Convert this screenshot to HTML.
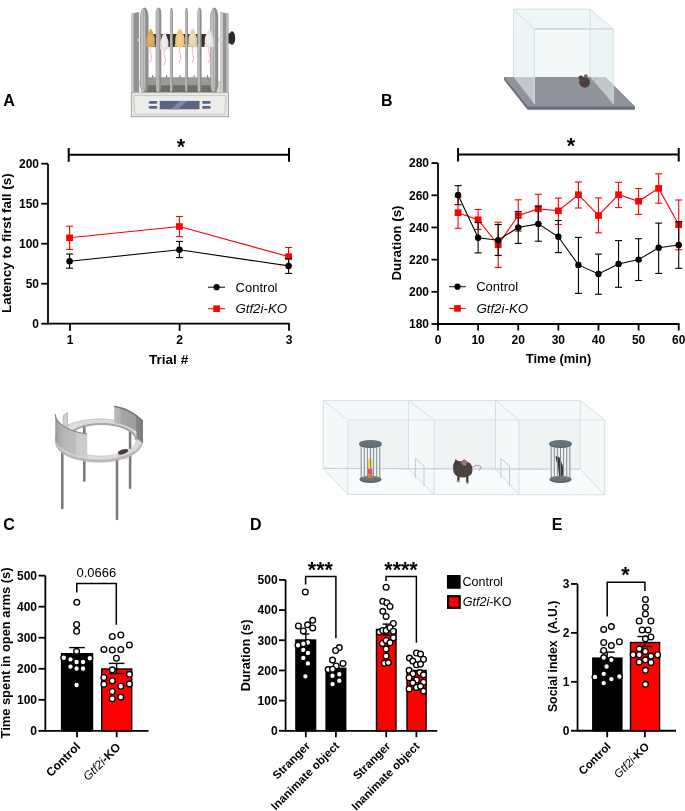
<!DOCTYPE html>
<html><head><meta charset="utf-8"><title>Figure</title>
<style>
html,body{margin:0;padding:0;background:#fff;}
svg{display:block;will-change:transform;}
text{font-family:"Liberation Sans", sans-serif;}
</style></head>
<body>
<svg width="685" height="811" viewBox="0 0 685 811">
<rect width="685" height="811" fill="#fff"/>
<g>
<rect x="131.3" y="92.5" width="97.2" height="24.2" fill="#e6e6e2" stroke="#9c9c9a" stroke-width="0.9"/>
<path d="M134.5,95.6 L225.2,95.6 Q226.2,95.6 226,97 L224.6,113.3 Q224.5,114.4 223.4,114.4 L136.3,114.4 Q135.2,114.4 135.1,113.3 L133.6,97 Q133.5,95.6 134.5,95.6 Z" fill="#ecece8" stroke="#bdbdb9" stroke-width="0.7"/>
<rect x="159.7" y="100.9" width="39.8" height="8.4" fill="#5a6484"/>
<path d="M171,109.3 L180,100.9 L187,100.9 L178,109.3 Z" fill="#8089a4"/>
<rect x="148.7" y="101.0" width="8.7" height="2.8" rx="1.4" fill="#5a6484"/>
<rect x="202.0" y="101.0" width="8.7" height="2.8" rx="1.4" fill="#5a6484"/>
<rect x="148.7" y="106.0" width="8.7" height="2.8" rx="1.4" fill="#5a6484"/>
<rect x="202.0" y="106.0" width="8.7" height="2.8" rx="1.4" fill="#5a6484"/>
<path d="M133.5,92.5 L138.5,81 L221,81 L226,92.5 Z" fill="#d6d6d2"/>
<path d="M133.5,92.5 L139,82 L141,92.5 Z" fill="#f0f0ec"/>
<rect x="142.5" y="77.6" width="74" height="14.6" fill="#6c6e68"/>
<rect x="142.5" y="77.6" width="74" height="7.6" fill="#9a9c93"/>
<rect x="152.1" y="75.2" width="1.1" height="2.6" fill="#7a7c76"/>
<rect x="166.0" y="75.2" width="1.1" height="2.6" fill="#7a7c76"/>
<rect x="179.5" y="75.2" width="1.1" height="2.6" fill="#7a7c76"/>
<rect x="193.5" y="75.2" width="1.1" height="2.6" fill="#7a7c76"/>
<rect x="207.0" y="75.2" width="1.1" height="2.6" fill="#7a7c76"/>
<path d="M131.5,13.6 L139.1,11.9 L139.1,92.5 L131.5,92.5 Z" fill="#939393"/>
<path d="M131.5,13.6 L133.6,13.1 L133.6,92.5 L131.5,92.5 Z" fill="#c9c9c9"/>
<path d="M220.5,11.9 L228.4,13.6 L228.4,92.5 L220.5,92.5 Z" fill="#939393"/>
<path d="M220.5,11.9 L223,12.4 L223,92.5 L220.5,92.5 Z" fill="#cacaca"/>
<path d="M226.3,13.2 L228.4,13.6 L228.4,92.5 L226.3,92.5 Z" fill="#bdbdbd"/>
<rect x="228.4" y="33.5" width="3.5" height="10" fill="#3a3a3a"/>
<ellipse cx="232" cy="38" rx="3.2" ry="6.8" fill="#2b2b2b"/>
<rect x="144.7" y="34" width="69.5" height="12.9" fill="#2f2f2f"/>
<rect x="137.5" y="38.6" width="4.5" height="2.6" fill="#dadad6"/>
<rect x="217.5" y="38.6" width="4.5" height="2.6" fill="#dadad6"/>
<rect x="140.20" y="7.6" width="8.30" height="85" rx="4.15" ry="9" fill="#8d8d8d"/>
<rect x="141.03" y="8.4" width="4.32" height="83.5" rx="2.16" ry="8" fill="#c6c6c6"/>
<rect x="142.69" y="10" width="1.66" height="80" rx="0.83" fill="#acacac"/>
<rect x="155.70" y="7.6" width="5.60" height="85" rx="2.80" ry="6" fill="#8d8d8d"/>
<rect x="156.26" y="8.4" width="2.91" height="83.5" rx="1.46" ry="5" fill="#c6c6c6"/>
<rect x="157.38" y="10" width="1.12" height="80" rx="0.56" fill="#acacac"/>
<rect x="169.90" y="7.6" width="3.00" height="85" rx="1.50" ry="6" fill="#8d8d8d"/>
<rect x="170.20" y="8.4" width="1.56" height="83.5" rx="0.78" ry="5" fill="#c6c6c6"/>
<rect x="170.80" y="10" width="0.60" height="80" rx="0.30" fill="#acacac"/>
<rect x="185.10" y="7.6" width="2.80" height="85" rx="1.40" ry="6" fill="#8d8d8d"/>
<rect x="185.38" y="8.4" width="1.46" height="83.5" rx="0.73" ry="5" fill="#c6c6c6"/>
<rect x="185.94" y="10" width="0.56" height="80" rx="0.28" fill="#acacac"/>
<rect x="197.40" y="7.6" width="4.20" height="85" rx="2.10" ry="6" fill="#8d8d8d"/>
<rect x="197.82" y="8.4" width="2.18" height="83.5" rx="1.09" ry="5" fill="#c6c6c6"/>
<rect x="198.66" y="10" width="0.84" height="80" rx="0.42" fill="#acacac"/>
<rect x="210.30" y="7.6" width="7.90" height="85" rx="3.95" ry="9" fill="#8d8d8d"/>
<rect x="211.09" y="8.4" width="4.11" height="83.5" rx="2.05" ry="8" fill="#c6c6c6"/>
<rect x="212.67" y="10" width="1.58" height="80" rx="0.79" fill="#acacac"/>
<path d="M150.70,28.80 C151.99,29.80 153.11,31.80 153.28,33.80 L154.31,36.30 C155.17,38.70 155.17,44.80 153.54,46.80 C151.56,47.40 149.84,47.40 147.86,46.80 C146.23,44.80 146.23,38.70 147.09,36.30 L148.12,33.80 C148.29,31.80 149.41,29.80 150.70,28.80 Z" fill="#d6a45a"/>
<ellipse cx="147.0" cy="45.3" rx="1.0" ry="1.5" fill="#d6a45a"/>
<ellipse cx="154.4" cy="45.3" rx="1.0" ry="1.5" fill="#d6a45a"/>
<ellipse cx="150.4" cy="39.2" rx="2.2" ry="5.4" fill="#e2b874" opacity="0.7"/>
<path d="M150.7,46.8 q-1.5,4 0.5,8 q1.8,4 -1.5,8" fill="none" stroke="#e6a79c" stroke-width="0.8"/>
<path d="M164.40,32.30 C165.68,33.30 166.78,35.30 166.95,37.30 L167.97,39.80 C168.82,41.70 168.82,47.40 167.21,49.40 C165.25,50.00 163.55,50.00 161.59,49.40 C159.98,47.40 159.98,41.70 160.83,39.80 L161.85,37.30 C162.02,35.30 163.12,33.30 164.40,32.30 Z" fill="#e4e1dd"/>
<ellipse cx="160.8" cy="47.9" rx="1.0" ry="1.5" fill="#e4e1dd"/>
<ellipse cx="168.1" cy="47.9" rx="1.0" ry="1.5" fill="#e4e1dd"/>
<ellipse cx="164.1" cy="42.2" rx="2.2" ry="5.1" fill="#f3f1ee" opacity="0.7"/>
<path d="M164.4,49.4 q-1.5,4 0.5,8 q1.8,4 -1.5,8" fill="none" stroke="#e6a79c" stroke-width="0.8"/>
<path d="M179.90,28.40 C181.36,29.40 182.62,31.40 182.81,33.40 L183.97,35.90 C184.94,38.52 184.94,44.80 183.10,46.80 C180.87,47.40 178.93,47.40 176.70,46.80 C174.86,44.80 174.86,38.52 175.83,35.90 L176.99,33.40 C177.18,31.40 178.44,29.40 179.90,28.40 Z" fill="#eec57a"/>
<ellipse cx="175.7" cy="45.3" rx="1.0" ry="1.5" fill="#eec57a"/>
<ellipse cx="184.2" cy="45.3" rx="1.0" ry="1.5" fill="#eec57a"/>
<ellipse cx="179.6" cy="39.1" rx="2.5" ry="5.5" fill="#f5d595" opacity="0.7"/>
<path d="M179.9,46.8 q-1.5,4 0.5,8 q1.8,4 -1.5,8" fill="none" stroke="#e6a79c" stroke-width="0.8"/>
<path d="M192.70,28.40 C194.05,29.40 195.22,31.40 195.40,33.40 L196.48,35.90 C197.38,38.69 197.38,45.10 195.67,47.10 C193.60,47.70 191.80,47.70 189.73,47.10 C188.02,45.10 188.02,38.69 188.92,35.90 L190.00,33.40 C190.18,31.40 191.35,29.40 192.70,28.40 Z" fill="#e3d1ad"/>
<ellipse cx="188.8" cy="45.6" rx="1.0" ry="1.5" fill="#e3d1ad"/>
<ellipse cx="196.6" cy="45.6" rx="1.0" ry="1.5" fill="#e3d1ad"/>
<ellipse cx="192.4" cy="39.2" rx="2.3" ry="5.6" fill="#eee1c6" opacity="0.7"/>
<path d="M192.7,47.1 q-1.5,4 0.5,8 q1.8,4 -1.5,8" fill="none" stroke="#e6a79c" stroke-width="0.8"/>
<path d="M209.10,29.00 C210.45,30.00 211.62,32.00 211.80,34.00 L212.88,36.50 C213.78,38.95 213.78,45.10 212.07,47.10 C210.00,47.70 208.20,47.70 206.13,47.10 C204.42,45.10 204.42,38.95 205.32,36.50 L206.40,34.00 C206.58,32.00 207.75,30.00 209.10,29.00 Z" fill="#e6e3e0"/>
<ellipse cx="205.2" cy="45.6" rx="1.0" ry="1.5" fill="#e6e3e0"/>
<ellipse cx="213.0" cy="45.6" rx="1.0" ry="1.5" fill="#e6e3e0"/>
<ellipse cx="208.8" cy="39.5" rx="2.3" ry="5.4" fill="#f5f3f1" opacity="0.7"/>
<path d="M209.1,47.1 q-1.5,4 0.5,8 q1.8,4 -1.5,8" fill="none" stroke="#e6a79c" stroke-width="0.8"/>
</g>
<g>
<path d="M504.1,77 L605.3,77 L634.9,106.6 L634.9,109.7 L527.6,109.7 L504.1,80 Z" fill="#6a7079"/>
<path d="M504.1,77 L605.3,77 L634.9,106.6 L527.6,106.6 Z" fill="#8f949b"/>
<path d="M513.6,9.2 L590.2,9.2 L590.2,77 L513.6,77 Z" fill="#f3f8f8"/>
<path d="M513.6,9.2 L534.4,28.9 L534.4,77 L513.6,77 Z" fill="#eef5f6"/>
<path d="M590.2,9.2 L613.2,28.9 L613.2,84.9 L605.3,77 L590.2,77 Z" fill="#eef5f6"/>
<path d="M513.6,9.2 L590.2,9.2 L613.2,28.9 L534.4,28.9 Z" fill="#eef6f6"/>
<path d="M513.6,77 L534.4,77 L534.4,104 Z" fill="#c3c8cc"/>
<path d="M590.2,77 L605.3,77 L613.2,84.9 L613.2,104 Z" fill="#c3c8cc"/>
<path d="M513.6,9.2 L590.2,9.2 L613.2,28.9 L534.4,28.9 Z M534.4,28.9 V104 M613.2,28.9 V104 M513.6,9.2 V77 M590.2,9.2 V77" fill="none" stroke="#d2dfe2" stroke-width="1"/>
<path d="M534.4,28.9 H613.2" stroke="#c9d8db" stroke-width="1.2"/>
<path d="M591,81.5 q4,0.5 5.2,-2.6 q0.5,-1.4 -0.8,-1.2" fill="none" stroke="#c99a98" stroke-width="0.8"/>
<ellipse cx="584.6" cy="82.2" rx="5.4" ry="5.6" fill="#4a4242"/>
<circle cx="580.8" cy="77.8" r="2.3" fill="#4a4242"/>
<circle cx="585.8" cy="76.2" r="1.9" fill="#7b6262"/>
<rect x="581.5" y="86.8" width="1.3" height="2.6" fill="#b88"/>
<rect x="586.2" y="87.2" width="1.3" height="2.6" fill="#b88"/>
</g>
<defs><linearGradient id="lw" x1="55" x2="87.5" y1="0" y2="0" gradientUnits="userSpaceOnUse"><stop offset="0" stop-color="#8e8e8e"/><stop offset="0.1" stop-color="#a9a9a9"/><stop offset="0.3" stop-color="#b8b8b8"/><stop offset="0.64" stop-color="#bdbdbd"/><stop offset="0.66" stop-color="#cbcbcb"/><stop offset="1" stop-color="#cdcdcd"/></linearGradient><linearGradient id="rw" x1="114" x2="143" y1="0" y2="0" gradientUnits="userSpaceOnUse"><stop offset="0" stop-color="#bdbdbd"/><stop offset="0.22" stop-color="#b4b4b4"/><stop offset="0.24" stop-color="#a6a6a6"/><stop offset="0.74" stop-color="#9e9e9e"/><stop offset="0.76" stop-color="#878787"/><stop offset="1" stop-color="#7c7c7c"/></linearGradient></defs>
<g>
<rect x="83.0" y="424" width="2.6" height="57.7" rx="1.2" fill="#7b7b7b"/>
<rect x="128.8" y="429" width="2.6" height="60.0" rx="1.2" fill="#7b7b7b"/>
<rect x="61.0" y="448" width="2.6" height="61.3" rx="1.2" fill="#7b7b7b"/>
<rect x="115.7" y="456" width="2.6" height="64.3" rx="1.2" fill="#7b7b7b"/>
<ellipse cx="98.9" cy="442.3" rx="43.8" ry="20.3" fill="#b9b9b9"/>
<ellipse cx="98.9" cy="439.5" rx="43.8" ry="20.5" fill="#dcdcdc" stroke="#b4b4b4" stroke-width="0.7"/>
<ellipse cx="101.5" cy="440.1" rx="34.7" ry="16" fill="#fff"/>
<rect x="83.0" y="425" width="2.6" height="30" fill="#7b7b7b"/>
<rect x="128.8" y="430.5" width="2.6" height="18.5" fill="#7b7b7b"/>
<path d="M66.8,440.1 A34.7,16 0 1,1 136.2,440.1" fill="none" stroke="#a5a5a5" stroke-width="2"/>
<path d="M66.8,440.1 A34.7,16 0 0,0 136.2,440.1" fill="none" stroke="#c4c4c4" stroke-width="0.8"/>
<path d="M55.3,414 A43.8,20.5 0 0,0 87.2,434 L87.2,457.5 A43.8,20.5 0 0,1 55.3,440 Z" fill="url(#lw)"/>
<path d="M55.3,414 A43.8,20.5 0 0,0 87.2,434" fill="none" stroke="#8a8a8a" stroke-width="1.2"/>
<path d="M63.3,415.4 L67.5,412.6 L67.5,428.2 L63.3,424.8 Z" fill="#cfcfcf" stroke="#9a9a9a" stroke-width="0.6"/>
<path d="M114.2,406.3 Q131,409.3 143,421.3 L143,443.5 L136.5,438 L136.5,431.5 Q126,424 114.2,423.2 Z" fill="url(#rw)"/>
<path d="M114.2,406.3 Q131,409.3 143,421.3" fill="none" stroke="#767676" stroke-width="1.4"/>
<path d="M118,455 q2,3 5,2.5 q3,-0.5 5,2" fill="none" stroke="#d49a9a" stroke-width="0.6"/>
<ellipse cx="123" cy="451.8" rx="5.4" ry="2.4" fill="#4a3e3a" transform="rotate(-18 123 451.8)"/>
</g>
<g>
<path d="M323.2,400.5 L580.3,400.5 L580.3,469.2 L323.2,468.4 Z" fill="#f0f3f3"/>
<path d="M323.2,468.4 L580.3,469.2 L604.8,494.8 L347.7,494.4 Z" fill="#f8fbfb"/>
<path d="M323.2,400.5 L347.7,419.9 L347.7,494.4 L323.2,468.4 Z" fill="#f5f9f9"/>
<path d="M580.3,400.5 L604.8,419.9 L604.8,494.8 L580.3,469.2 Z" fill="#f5f9f9"/>
<path d="M323.2,400.5 L580.3,400.5 L604.8,419.9 L347.7,419.9 Z" fill="#f4f9f9"/>
<path d="M408.4,400.5 L434.1,419.9 L434.1,494.6 L408.4,468.8 Z" fill="#f4f9f9" stroke="#d3dee1" stroke-width="1"/>
<path d="M495.5,400.5 L518.9,419.9 L518.9,494.6 L495.5,468.8 Z" fill="#f4f9f9" stroke="#d3dee1" stroke-width="1"/>
<path d="M323.2,400.5 L580.3,400.5 L604.8,419.9 L347.7,419.9 Z M347.7,419.9 V494.4 L604.8,494.8 V419.9 M323.2,400.5 V468.4 L347.7,494.4 M323.2,468.4 L580.3,469.2 L604.8,494.8 M580.3,400.5 V469.2" fill="none" stroke="#d6e1e3" stroke-width="1"/>
<path d="M323.2,468.4 L580.3,469.2" fill="none" stroke="#c8d3da" stroke-width="1.2"/>
<path d="M415.4,478 L415.4,458.4 L424.0,466 L424.0,486" fill="none" stroke="#bfcbcf" stroke-width="1"/>
<path d="M500.9,478 L500.9,458.4 L509.5,466 L509.5,486" fill="none" stroke="#bfcbcf" stroke-width="1"/>
<rect x="360.0" y="444" width="21" height="35" fill="#e9eeef" opacity="0.6"/>
<ellipse cx="370.5" cy="479.6" rx="11.2" ry="3.4" fill="#5b666b"/>
<ellipse cx="370.5" cy="478.6" rx="10.6" ry="2.6" fill="#67737a"/>
<rect x="550.0" y="444" width="21" height="35" fill="#e9eeef" opacity="0.6"/>
<ellipse cx="560.5" cy="479.6" rx="11.2" ry="3.4" fill="#5b666b"/>
<ellipse cx="560.5" cy="478.6" rx="10.6" ry="2.6" fill="#67737a"/>
<path d="M368,461 L370.2,456.5 L372.4,461 L372.4,468.7 L368,468.7 Z" fill="#f2d54e"/>
<rect x="368" y="468.7" width="4.4" height="5.8" fill="#e84a6a"/>
<rect x="367.6" y="474.5" width="5.2" height="3.5" fill="#e8782a"/>
<path d="M555.5,456.5 Q558,455.5 560,458 L563.5,468 Q564,473 562.5,476 L559,476 L558,466 Q556,461 555.5,456.5 Z" fill="#3f3939"/>
<line x1="361.2" y1="445" x2="361.2" y2="478" stroke="#7d888e" stroke-width="0.95"/>
<line x1="364.3" y1="445" x2="364.3" y2="478" stroke="#7d888e" stroke-width="0.95"/>
<line x1="367.4" y1="445" x2="367.4" y2="478" stroke="#7d888e" stroke-width="0.95"/>
<line x1="370.5" y1="445" x2="370.5" y2="478" stroke="#7d888e" stroke-width="0.95"/>
<line x1="373.6" y1="445" x2="373.6" y2="478" stroke="#7d888e" stroke-width="0.95"/>
<line x1="376.7" y1="445" x2="376.7" y2="478" stroke="#7d888e" stroke-width="0.95"/>
<line x1="379.8" y1="445" x2="379.8" y2="478" stroke="#7d888e" stroke-width="0.95"/>
<ellipse cx="370.5" cy="444.6" rx="11.4" ry="3.3" fill="#56626a"/>
<ellipse cx="370.5" cy="443.4" rx="11.4" ry="3.3" fill="#65727a"/>
<line x1="551.2" y1="445" x2="551.2" y2="478" stroke="#7d888e" stroke-width="0.95"/>
<line x1="554.3" y1="445" x2="554.3" y2="478" stroke="#7d888e" stroke-width="0.95"/>
<line x1="557.4" y1="445" x2="557.4" y2="478" stroke="#7d888e" stroke-width="0.95"/>
<line x1="560.5" y1="445" x2="560.5" y2="478" stroke="#7d888e" stroke-width="0.95"/>
<line x1="563.6" y1="445" x2="563.6" y2="478" stroke="#7d888e" stroke-width="0.95"/>
<line x1="566.7" y1="445" x2="566.7" y2="478" stroke="#7d888e" stroke-width="0.95"/>
<line x1="569.8" y1="445" x2="569.8" y2="478" stroke="#7d888e" stroke-width="0.95"/>
<ellipse cx="560.5" cy="444.6" rx="11.4" ry="3.3" fill="#56626a"/>
<ellipse cx="560.5" cy="443.4" rx="11.4" ry="3.3" fill="#65727a"/>
<path d="M471.5,467.5 q5,-3.5 9,-1.5 q1.5,1.5 -1.5,4.5" fill="none" stroke="#b98a8a" stroke-width="1"/>
<ellipse cx="458.3" cy="481.2" rx="1.6" ry="1.3" fill="#c09090"/>
<ellipse cx="467.3" cy="482.6" rx="1.6" ry="1.3" fill="#c09090"/>
<rect x="457.3" y="474" width="2.2" height="6.5" fill="#3f3838"/>
<rect x="466.2" y="475" width="2.2" height="7" fill="#3f3838"/>
<path d="M453,467 Q453,461 458,461 L468,462 Q472.5,464 472.5,470 Q472.5,477 464,477.5 Q455,477.5 453.5,472 Z" fill="#4a4340"/>
<path d="M453.5,466 L455.5,459 L459.5,462.5 Z" fill="#433c3a"/>
<ellipse cx="464.2" cy="462.6" rx="2.8" ry="3.1" fill="#9c7474"/>
</g>
<text x="3.30" y="105.70" font-size="16" font-weight="bold" font-style="normal" text-anchor="start" fill="#000" >A</text>
<text x="381.00" y="105.70" font-size="16" font-weight="bold" font-style="normal" text-anchor="start" fill="#000" >B</text>
<text x="3.20" y="530.20" font-size="16" font-weight="bold" font-style="normal" text-anchor="start" fill="#000" >C</text>
<text x="250.00" y="530.20" font-size="16" font-weight="bold" font-style="normal" text-anchor="start" fill="#000" >D</text>
<text x="551.80" y="530.20" font-size="16" font-weight="bold" font-style="normal" text-anchor="start" fill="#000" >E</text>
<line x1="48.00" y1="163.70" x2="48.00" y2="324.60" stroke="#000" stroke-width="1.8"/>
<line x1="41.30" y1="323.70" x2="48.00" y2="323.70" stroke="#000" stroke-width="1.8"/>
<text x="39.00" y="328.00" font-size="12" font-weight="bold" font-style="normal" text-anchor="end" fill="#000" >0</text>
<line x1="41.30" y1="283.70" x2="48.00" y2="283.70" stroke="#000" stroke-width="1.8"/>
<text x="39.00" y="288.00" font-size="12" font-weight="bold" font-style="normal" text-anchor="end" fill="#000" >50</text>
<line x1="41.30" y1="243.70" x2="48.00" y2="243.70" stroke="#000" stroke-width="1.8"/>
<text x="39.00" y="248.00" font-size="12" font-weight="bold" font-style="normal" text-anchor="end" fill="#000" >100</text>
<line x1="41.30" y1="203.70" x2="48.00" y2="203.70" stroke="#000" stroke-width="1.8"/>
<text x="39.00" y="208.00" font-size="12" font-weight="bold" font-style="normal" text-anchor="end" fill="#000" >150</text>
<line x1="41.30" y1="163.70" x2="48.00" y2="163.70" stroke="#000" stroke-width="1.8"/>
<text x="39.00" y="168.00" font-size="12" font-weight="bold" font-style="normal" text-anchor="end" fill="#000" >200</text>
<line x1="48.00" y1="323.70" x2="289.70" y2="323.70" stroke="#000" stroke-width="1.8"/>
<line x1="70.00" y1="323.70" x2="70.00" y2="330.80" stroke="#000" stroke-width="1.8"/>
<text x="70.00" y="343.70" font-size="12" font-weight="bold" font-style="normal" text-anchor="middle" fill="#000" >1</text>
<line x1="179.60" y1="323.70" x2="179.60" y2="330.80" stroke="#000" stroke-width="1.8"/>
<text x="179.60" y="343.70" font-size="12" font-weight="bold" font-style="normal" text-anchor="middle" fill="#000" >2</text>
<line x1="289.00" y1="323.70" x2="289.00" y2="330.80" stroke="#000" stroke-width="1.8"/>
<text x="289.00" y="343.70" font-size="12" font-weight="bold" font-style="normal" text-anchor="middle" fill="#000" >3</text>
<text x="168.60" y="363.80" font-size="13.6" font-weight="bold" font-style="normal" text-anchor="middle" fill="#000" >Trial #</text>
<text x="0.00" y="0.00" font-size="13.45" font-weight="bold" font-style="normal" text-anchor="middle" fill="#000" transform="translate(10.8,243.2) rotate(-90)">Latency to first fall (s)</text>
<path d="M68.7,148 V161.7 M68.7,154.8 H289 M289,148 V161.7" fill="none" stroke="#000" stroke-width="2"/>
<text x="181.00" y="153.60" font-size="21.5" font-weight="bold" font-style="normal" text-anchor="middle" fill="#000" >*</text>
<polyline points="69.60,237.80 179.40,226.50 288.60,256.60" fill="none" stroke="#f00" stroke-width="1.1"/>
<line x1="69.60" y1="226.20" x2="69.60" y2="249.40" stroke="#f00" stroke-width="1.1"/>
<line x1="66.10" y1="226.20" x2="73.10" y2="226.20" stroke="#f00" stroke-width="1.1"/>
<line x1="66.10" y1="249.40" x2="73.10" y2="249.40" stroke="#f00" stroke-width="1.1"/>
<line x1="179.40" y1="216.50" x2="179.40" y2="236.60" stroke="#f00" stroke-width="1.1"/>
<line x1="175.90" y1="216.50" x2="182.90" y2="216.50" stroke="#f00" stroke-width="1.1"/>
<line x1="175.90" y1="236.60" x2="182.90" y2="236.60" stroke="#f00" stroke-width="1.1"/>
<line x1="288.60" y1="247.50" x2="288.60" y2="265.60" stroke="#f00" stroke-width="1.1"/>
<line x1="285.10" y1="247.50" x2="292.10" y2="247.50" stroke="#f00" stroke-width="1.1"/>
<line x1="285.10" y1="265.60" x2="292.10" y2="265.60" stroke="#f00" stroke-width="1.1"/>
<rect x="66.20" y="234.50" width="6.8" height="6.6" fill="#f00"/>
<rect x="176.00" y="223.20" width="6.8" height="6.6" fill="#f00"/>
<rect x="285.20" y="253.30" width="6.8" height="6.6" fill="#f00"/>
<polyline points="69.60,261.20 179.40,249.80 288.60,265.90" fill="none" stroke="#000" stroke-width="1.1"/>
<line x1="69.60" y1="254.00" x2="69.60" y2="268.20" stroke="#000" stroke-width="1.1"/>
<line x1="66.10" y1="254.00" x2="73.10" y2="254.00" stroke="#000" stroke-width="1.1"/>
<line x1="66.10" y1="268.20" x2="73.10" y2="268.20" stroke="#000" stroke-width="1.1"/>
<line x1="179.40" y1="241.40" x2="179.40" y2="257.60" stroke="#000" stroke-width="1.1"/>
<line x1="175.90" y1="241.40" x2="182.90" y2="241.40" stroke="#000" stroke-width="1.1"/>
<line x1="175.90" y1="257.60" x2="182.90" y2="257.60" stroke="#000" stroke-width="1.1"/>
<line x1="288.60" y1="258.60" x2="288.60" y2="273.40" stroke="#000" stroke-width="1.1"/>
<line x1="285.10" y1="258.60" x2="292.10" y2="258.60" stroke="#000" stroke-width="1.1"/>
<line x1="285.10" y1="273.40" x2="292.10" y2="273.40" stroke="#000" stroke-width="1.1"/>
<circle cx="69.60" cy="261.20" r="3.25" fill="#000"/>
<circle cx="179.40" cy="249.80" r="3.25" fill="#000"/>
<circle cx="288.60" cy="265.90" r="3.25" fill="#000"/>
<line x1="208.00" y1="287.20" x2="225.00" y2="287.20" stroke="#000" stroke-width="1"/>
<circle cx="216.6" cy="287.2" r="3.1" fill="#000"/>
<text x="235.60" y="291.90" font-size="13" font-weight="normal" font-style="normal" text-anchor="start" fill="#000" >Control</text>
<line x1="208.00" y1="308.70" x2="225.00" y2="308.70" stroke="#f00" stroke-width="1"/>
<rect x="213.3" y="305.4" width="6.6" height="6.6" fill="#f00"/>
<text x="235.40" y="313.40" font-size="13.3" font-weight="normal" font-style="italic" text-anchor="start" fill="#000" >Gtf2i-KO</text>
<line x1="438.00" y1="163.10" x2="438.00" y2="324.90" stroke="#000" stroke-width="1.8"/>
<line x1="431.50" y1="324.00" x2="438.00" y2="324.00" stroke="#000" stroke-width="1.8"/>
<text x="429.00" y="328.30" font-size="12" font-weight="bold" font-style="normal" text-anchor="end" fill="#000" >180</text>
<line x1="431.50" y1="291.82" x2="438.00" y2="291.82" stroke="#000" stroke-width="1.8"/>
<text x="429.00" y="296.12" font-size="12" font-weight="bold" font-style="normal" text-anchor="end" fill="#000" >200</text>
<line x1="431.50" y1="259.64" x2="438.00" y2="259.64" stroke="#000" stroke-width="1.8"/>
<text x="429.00" y="263.94" font-size="12" font-weight="bold" font-style="normal" text-anchor="end" fill="#000" >220</text>
<line x1="431.50" y1="227.46" x2="438.00" y2="227.46" stroke="#000" stroke-width="1.8"/>
<text x="429.00" y="231.76" font-size="12" font-weight="bold" font-style="normal" text-anchor="end" fill="#000" >240</text>
<line x1="431.50" y1="195.28" x2="438.00" y2="195.28" stroke="#000" stroke-width="1.8"/>
<text x="429.00" y="199.58" font-size="12" font-weight="bold" font-style="normal" text-anchor="end" fill="#000" >260</text>
<line x1="431.50" y1="163.10" x2="438.00" y2="163.10" stroke="#000" stroke-width="1.8"/>
<text x="429.00" y="167.40" font-size="12" font-weight="bold" font-style="normal" text-anchor="end" fill="#000" >280</text>
<line x1="438.00" y1="324.00" x2="679.62" y2="324.00" stroke="#000" stroke-width="1.8"/>
<line x1="438.00" y1="324.00" x2="438.00" y2="330.50" stroke="#000" stroke-width="1.8"/>
<text x="438.00" y="343.70" font-size="12" font-weight="bold" font-style="normal" text-anchor="middle" fill="#000" >0</text>
<line x1="478.12" y1="324.00" x2="478.12" y2="330.50" stroke="#000" stroke-width="1.8"/>
<text x="478.12" y="343.70" font-size="12" font-weight="bold" font-style="normal" text-anchor="middle" fill="#000" >10</text>
<line x1="518.24" y1="324.00" x2="518.24" y2="330.50" stroke="#000" stroke-width="1.8"/>
<text x="518.24" y="343.70" font-size="12" font-weight="bold" font-style="normal" text-anchor="middle" fill="#000" >20</text>
<line x1="558.36" y1="324.00" x2="558.36" y2="330.50" stroke="#000" stroke-width="1.8"/>
<text x="558.36" y="343.70" font-size="12" font-weight="bold" font-style="normal" text-anchor="middle" fill="#000" >30</text>
<line x1="598.48" y1="324.00" x2="598.48" y2="330.50" stroke="#000" stroke-width="1.8"/>
<text x="598.48" y="343.70" font-size="12" font-weight="bold" font-style="normal" text-anchor="middle" fill="#000" >40</text>
<line x1="638.60" y1="324.00" x2="638.60" y2="330.50" stroke="#000" stroke-width="1.8"/>
<text x="638.60" y="343.70" font-size="12" font-weight="bold" font-style="normal" text-anchor="middle" fill="#000" >50</text>
<line x1="678.72" y1="324.00" x2="678.72" y2="330.50" stroke="#000" stroke-width="1.8"/>
<text x="678.72" y="343.70" font-size="12" font-weight="bold" font-style="normal" text-anchor="middle" fill="#000" >60</text>
<text x="558.50" y="363.30" font-size="13" font-weight="bold" font-style="normal" text-anchor="middle" fill="#000" >Time (min)</text>
<text x="0.00" y="0.00" font-size="13.4" font-weight="bold" font-style="normal" text-anchor="middle" fill="#000" transform="translate(400.8,243.0) rotate(-90)">Duration (s)</text>
<path d="M458.06,148 V161.6 M458.06,154.6 H678.72 M678.72,148 V161.6" fill="none" stroke="#000" stroke-width="2"/>
<text x="570.90" y="153.30" font-size="21.5" font-weight="bold" font-style="normal" text-anchor="middle" fill="#000" >*</text>
<polyline points="458.06,212.70 478.12,219.70 498.18,244.80 518.24,215.50 538.30,208.90 558.36,210.80 578.42,194.70 598.48,215.50 618.54,194.70 638.60,201.30 658.66,188.40 678.72,224.70" fill="none" stroke="#f00" stroke-width="1.1"/>
<line x1="458.06" y1="197.00" x2="458.06" y2="228.30" stroke="#f00" stroke-width="1.1"/>
<line x1="454.56" y1="197.00" x2="461.56" y2="197.00" stroke="#f00" stroke-width="1.1"/>
<line x1="454.56" y1="228.30" x2="461.56" y2="228.30" stroke="#f00" stroke-width="1.1"/>
<line x1="478.12" y1="209.50" x2="478.12" y2="229.40" stroke="#f00" stroke-width="1.1"/>
<line x1="474.62" y1="209.50" x2="481.62" y2="209.50" stroke="#f00" stroke-width="1.1"/>
<line x1="474.62" y1="229.40" x2="481.62" y2="229.40" stroke="#f00" stroke-width="1.1"/>
<line x1="498.18" y1="222.20" x2="498.18" y2="267.40" stroke="#f00" stroke-width="1.1"/>
<line x1="494.68" y1="222.20" x2="501.68" y2="222.20" stroke="#f00" stroke-width="1.1"/>
<line x1="494.68" y1="267.40" x2="501.68" y2="267.40" stroke="#f00" stroke-width="1.1"/>
<line x1="518.24" y1="199.80" x2="518.24" y2="231.10" stroke="#f00" stroke-width="1.1"/>
<line x1="514.74" y1="199.80" x2="521.74" y2="199.80" stroke="#f00" stroke-width="1.1"/>
<line x1="514.74" y1="231.10" x2="521.74" y2="231.10" stroke="#f00" stroke-width="1.1"/>
<line x1="538.30" y1="194.30" x2="538.30" y2="223.50" stroke="#f00" stroke-width="1.1"/>
<line x1="534.80" y1="194.30" x2="541.80" y2="194.30" stroke="#f00" stroke-width="1.1"/>
<line x1="534.80" y1="223.50" x2="541.80" y2="223.50" stroke="#f00" stroke-width="1.1"/>
<line x1="558.36" y1="198.10" x2="558.36" y2="224.50" stroke="#f00" stroke-width="1.1"/>
<line x1="554.86" y1="198.10" x2="561.86" y2="198.10" stroke="#f00" stroke-width="1.1"/>
<line x1="554.86" y1="224.50" x2="561.86" y2="224.50" stroke="#f00" stroke-width="1.1"/>
<line x1="578.42" y1="182.00" x2="578.42" y2="208.00" stroke="#f00" stroke-width="1.1"/>
<line x1="574.92" y1="182.00" x2="581.92" y2="182.00" stroke="#f00" stroke-width="1.1"/>
<line x1="574.92" y1="208.00" x2="581.92" y2="208.00" stroke="#f00" stroke-width="1.1"/>
<line x1="598.48" y1="197.90" x2="598.48" y2="232.80" stroke="#f00" stroke-width="1.1"/>
<line x1="594.98" y1="197.90" x2="601.98" y2="197.90" stroke="#f00" stroke-width="1.1"/>
<line x1="594.98" y1="232.80" x2="601.98" y2="232.80" stroke="#f00" stroke-width="1.1"/>
<line x1="618.54" y1="182.30" x2="618.54" y2="207.60" stroke="#f00" stroke-width="1.1"/>
<line x1="615.04" y1="182.30" x2="622.04" y2="182.30" stroke="#f00" stroke-width="1.1"/>
<line x1="615.04" y1="207.60" x2="622.04" y2="207.60" stroke="#f00" stroke-width="1.1"/>
<line x1="638.60" y1="188.60" x2="638.60" y2="214.40" stroke="#f00" stroke-width="1.1"/>
<line x1="635.10" y1="188.60" x2="642.10" y2="188.60" stroke="#f00" stroke-width="1.1"/>
<line x1="635.10" y1="214.40" x2="642.10" y2="214.40" stroke="#f00" stroke-width="1.1"/>
<line x1="658.66" y1="173.80" x2="658.66" y2="203.20" stroke="#f00" stroke-width="1.1"/>
<line x1="655.16" y1="173.80" x2="662.16" y2="173.80" stroke="#f00" stroke-width="1.1"/>
<line x1="655.16" y1="203.20" x2="662.16" y2="203.20" stroke="#f00" stroke-width="1.1"/>
<line x1="678.72" y1="200.00" x2="678.72" y2="249.70" stroke="#f00" stroke-width="1.1"/>
<line x1="675.22" y1="200.00" x2="682.22" y2="200.00" stroke="#f00" stroke-width="1.1"/>
<line x1="675.22" y1="249.70" x2="682.22" y2="249.70" stroke="#f00" stroke-width="1.1"/>
<rect x="454.66" y="209.40" width="6.8" height="6.6" fill="#f00"/>
<rect x="474.72" y="216.40" width="6.8" height="6.6" fill="#f00"/>
<rect x="494.78" y="241.50" width="6.8" height="6.6" fill="#f00"/>
<rect x="514.84" y="212.20" width="6.8" height="6.6" fill="#f00"/>
<rect x="534.90" y="205.60" width="6.8" height="6.6" fill="#f00"/>
<rect x="554.96" y="207.50" width="6.8" height="6.6" fill="#f00"/>
<rect x="575.02" y="191.40" width="6.8" height="6.6" fill="#f00"/>
<rect x="595.08" y="212.20" width="6.8" height="6.6" fill="#f00"/>
<rect x="615.14" y="191.40" width="6.8" height="6.6" fill="#f00"/>
<rect x="635.20" y="198.00" width="6.8" height="6.6" fill="#f00"/>
<rect x="655.26" y="185.10" width="6.8" height="6.6" fill="#f00"/>
<rect x="675.32" y="221.40" width="6.8" height="6.6" fill="#f00"/>
<polyline points="458.06,195.05 478.12,237.75 498.18,240.20 518.24,227.50 538.30,223.90 558.36,236.80 578.42,264.90 598.48,274.00 618.54,263.90 638.60,259.60 658.66,247.80 678.72,245.00" fill="none" stroke="#000" stroke-width="1.1"/>
<line x1="458.06" y1="185.60" x2="458.06" y2="204.70" stroke="#000" stroke-width="1.1"/>
<line x1="454.56" y1="185.60" x2="461.56" y2="185.60" stroke="#000" stroke-width="1.1"/>
<line x1="454.56" y1="204.70" x2="461.56" y2="204.70" stroke="#000" stroke-width="1.1"/>
<line x1="478.12" y1="222.60" x2="478.12" y2="252.90" stroke="#000" stroke-width="1.1"/>
<line x1="474.62" y1="222.60" x2="481.62" y2="222.60" stroke="#000" stroke-width="1.1"/>
<line x1="474.62" y1="252.90" x2="481.62" y2="252.90" stroke="#000" stroke-width="1.1"/>
<line x1="498.18" y1="224.50" x2="498.18" y2="255.40" stroke="#000" stroke-width="1.1"/>
<line x1="494.68" y1="224.50" x2="501.68" y2="224.50" stroke="#000" stroke-width="1.1"/>
<line x1="494.68" y1="255.40" x2="501.68" y2="255.40" stroke="#000" stroke-width="1.1"/>
<line x1="518.24" y1="211.40" x2="518.24" y2="243.40" stroke="#000" stroke-width="1.1"/>
<line x1="514.74" y1="211.40" x2="521.74" y2="211.40" stroke="#000" stroke-width="1.1"/>
<line x1="514.74" y1="243.40" x2="521.74" y2="243.40" stroke="#000" stroke-width="1.1"/>
<line x1="538.30" y1="206.10" x2="538.30" y2="241.20" stroke="#000" stroke-width="1.1"/>
<line x1="534.80" y1="206.10" x2="541.80" y2="206.10" stroke="#000" stroke-width="1.1"/>
<line x1="534.80" y1="241.20" x2="541.80" y2="241.20" stroke="#000" stroke-width="1.1"/>
<line x1="558.36" y1="220.50" x2="558.36" y2="252.60" stroke="#000" stroke-width="1.1"/>
<line x1="554.86" y1="220.50" x2="561.86" y2="220.50" stroke="#000" stroke-width="1.1"/>
<line x1="554.86" y1="252.60" x2="561.86" y2="252.60" stroke="#000" stroke-width="1.1"/>
<line x1="578.42" y1="237.40" x2="578.42" y2="293.40" stroke="#000" stroke-width="1.1"/>
<line x1="574.92" y1="237.40" x2="581.92" y2="237.40" stroke="#000" stroke-width="1.1"/>
<line x1="574.92" y1="293.40" x2="581.92" y2="293.40" stroke="#000" stroke-width="1.1"/>
<line x1="598.48" y1="254.10" x2="598.48" y2="294.30" stroke="#000" stroke-width="1.1"/>
<line x1="594.98" y1="254.10" x2="601.98" y2="254.10" stroke="#000" stroke-width="1.1"/>
<line x1="594.98" y1="294.30" x2="601.98" y2="294.30" stroke="#000" stroke-width="1.1"/>
<line x1="618.54" y1="240.60" x2="618.54" y2="287.30" stroke="#000" stroke-width="1.1"/>
<line x1="615.04" y1="240.60" x2="622.04" y2="240.60" stroke="#000" stroke-width="1.1"/>
<line x1="615.04" y1="287.30" x2="622.04" y2="287.30" stroke="#000" stroke-width="1.1"/>
<line x1="638.60" y1="238.70" x2="638.60" y2="280.50" stroke="#000" stroke-width="1.1"/>
<line x1="635.10" y1="238.70" x2="642.10" y2="238.70" stroke="#000" stroke-width="1.1"/>
<line x1="635.10" y1="280.50" x2="642.10" y2="280.50" stroke="#000" stroke-width="1.1"/>
<line x1="658.66" y1="223.10" x2="658.66" y2="273.40" stroke="#000" stroke-width="1.1"/>
<line x1="655.16" y1="223.10" x2="662.16" y2="223.10" stroke="#000" stroke-width="1.1"/>
<line x1="655.16" y1="273.40" x2="662.16" y2="273.40" stroke="#000" stroke-width="1.1"/>
<line x1="678.72" y1="221.70" x2="678.72" y2="268.30" stroke="#000" stroke-width="1.1"/>
<line x1="675.22" y1="221.70" x2="682.22" y2="221.70" stroke="#000" stroke-width="1.1"/>
<line x1="675.22" y1="268.30" x2="682.22" y2="268.30" stroke="#000" stroke-width="1.1"/>
<circle cx="458.06" cy="195.05" r="3.2" fill="#000"/>
<circle cx="478.12" cy="237.75" r="3.2" fill="#000"/>
<circle cx="498.18" cy="240.20" r="3.2" fill="#000"/>
<circle cx="518.24" cy="227.50" r="3.2" fill="#000"/>
<circle cx="538.30" cy="223.90" r="3.2" fill="#000"/>
<circle cx="558.36" cy="236.80" r="3.2" fill="#000"/>
<circle cx="578.42" cy="264.90" r="3.2" fill="#000"/>
<circle cx="598.48" cy="274.00" r="3.2" fill="#000"/>
<circle cx="618.54" cy="263.90" r="3.2" fill="#000"/>
<circle cx="638.60" cy="259.60" r="3.2" fill="#000"/>
<circle cx="658.66" cy="247.80" r="3.2" fill="#000"/>
<circle cx="678.72" cy="245.00" r="3.2" fill="#000"/>
<line x1="449.10" y1="286.70" x2="465.80" y2="286.70" stroke="#000" stroke-width="1"/>
<circle cx="457.5" cy="286.7" r="3.1" fill="#000"/>
<text x="476.20" y="291.40" font-size="13" font-weight="normal" font-style="normal" text-anchor="start" fill="#000" >Control</text>
<line x1="449.10" y1="308.40" x2="465.80" y2="308.40" stroke="#f00" stroke-width="1"/>
<rect x="454.2" y="305.1" width="6.6" height="6.6" fill="#f00"/>
<text x="476.40" y="313.10" font-size="13.3" font-weight="normal" font-style="italic" text-anchor="start" fill="#000" >Gtf2i-KO</text>
<line x1="45.35" y1="575.65" x2="45.35" y2="731.75" stroke="#000" stroke-width="1.8"/>
<line x1="38.50" y1="730.85" x2="45.35" y2="730.85" stroke="#000" stroke-width="1.8"/>
<text x="37.00" y="735.35" font-size="12" font-weight="bold" font-style="normal" text-anchor="end" fill="#000" >0</text>
<line x1="38.50" y1="699.81" x2="45.35" y2="699.81" stroke="#000" stroke-width="1.8"/>
<text x="37.00" y="704.31" font-size="12" font-weight="bold" font-style="normal" text-anchor="end" fill="#000" >100</text>
<line x1="38.50" y1="668.77" x2="45.35" y2="668.77" stroke="#000" stroke-width="1.8"/>
<text x="37.00" y="673.27" font-size="12" font-weight="bold" font-style="normal" text-anchor="end" fill="#000" >200</text>
<line x1="38.50" y1="637.73" x2="45.35" y2="637.73" stroke="#000" stroke-width="1.8"/>
<text x="37.00" y="642.23" font-size="12" font-weight="bold" font-style="normal" text-anchor="end" fill="#000" >300</text>
<line x1="38.50" y1="606.69" x2="45.35" y2="606.69" stroke="#000" stroke-width="1.8"/>
<text x="37.00" y="611.19" font-size="12" font-weight="bold" font-style="normal" text-anchor="end" fill="#000" >400</text>
<line x1="38.50" y1="575.65" x2="45.35" y2="575.65" stroke="#000" stroke-width="1.8"/>
<text x="37.00" y="580.15" font-size="12" font-weight="bold" font-style="normal" text-anchor="end" fill="#000" >500</text>
<line x1="45.35" y1="730.85" x2="148.50" y2="730.85" stroke="#000" stroke-width="1.8"/>
<rect x="61.60" y="653.70" width="30.90" height="77.15" fill="#000" stroke="#000" stroke-width="1.4"/>
<rect x="101.70" y="669.00" width="30.00" height="61.85" fill="#f00" stroke="#000" stroke-width="1.4"/>
<line x1="77.00" y1="730.85" x2="77.00" y2="737.20" stroke="#000" stroke-width="1.8"/>
<line x1="116.70" y1="730.85" x2="116.70" y2="737.20" stroke="#000" stroke-width="1.8"/>
<line x1="77.00" y1="647.60" x2="77.00" y2="660.00" stroke="#000" stroke-width="1.4"/>
<line x1="69.20" y1="647.60" x2="84.80" y2="647.60" stroke="#000" stroke-width="1.4"/>
<line x1="69.20" y1="660.00" x2="84.80" y2="660.00" stroke="#000" stroke-width="1.4"/>
<line x1="116.60" y1="663.40" x2="116.60" y2="673.50" stroke="#000" stroke-width="1.4"/>
<line x1="108.80" y1="663.40" x2="124.40" y2="663.40" stroke="#000" stroke-width="1.4"/>
<line x1="108.80" y1="673.50" x2="124.40" y2="673.50" stroke="#000" stroke-width="1.4"/>
<circle cx="76.8" cy="602.3" r="2.85" fill="#fff" stroke="#000" stroke-width="1.35"/>
<circle cx="76.6" cy="624.5" r="2.85" fill="#fff" stroke="#000" stroke-width="1.35"/>
<circle cx="76.6" cy="631.2" r="2.85" fill="#fff" stroke="#000" stroke-width="1.35"/>
<circle cx="76.6" cy="651.3" r="2.85" fill="#fff" stroke="#000" stroke-width="1.35"/>
<circle cx="63.8" cy="657.7" r="2.85" fill="#fff" stroke="#000" stroke-width="1.35"/>
<circle cx="89.8" cy="658.2" r="2.85" fill="#fff" stroke="#000" stroke-width="1.35"/>
<circle cx="70.5" cy="659.3" r="2.85" fill="#fff" stroke="#000" stroke-width="1.35"/>
<circle cx="76.6" cy="662.0" r="2.85" fill="#fff" stroke="#000" stroke-width="1.35"/>
<circle cx="83.0" cy="662.0" r="2.85" fill="#fff" stroke="#000" stroke-width="1.35"/>
<circle cx="70.5" cy="666.6" r="2.85" fill="#fff" stroke="#000" stroke-width="1.35"/>
<circle cx="76.6" cy="668.5" r="2.85" fill="#fff" stroke="#000" stroke-width="1.35"/>
<circle cx="83.0" cy="668.5" r="2.85" fill="#fff" stroke="#000" stroke-width="1.35"/>
<circle cx="76.6" cy="685.0" r="2.85" fill="#fff" stroke="#000" stroke-width="1.35"/>
<circle cx="120.8" cy="634.9" r="2.85" fill="#fff" stroke="#000" stroke-width="1.35"/>
<circle cx="112.3" cy="636.5" r="2.85" fill="#fff" stroke="#000" stroke-width="1.35"/>
<circle cx="129.4" cy="644.9" r="2.85" fill="#fff" stroke="#000" stroke-width="1.35"/>
<circle cx="103.9" cy="649.4" r="2.85" fill="#fff" stroke="#000" stroke-width="1.35"/>
<circle cx="112.3" cy="650.0" r="2.85" fill="#fff" stroke="#000" stroke-width="1.35"/>
<circle cx="120.8" cy="649.4" r="2.85" fill="#fff" stroke="#000" stroke-width="1.35"/>
<circle cx="116.4" cy="658.2" r="2.85" fill="#fff" stroke="#000" stroke-width="1.35"/>
<circle cx="112.3" cy="669.8" r="2.85" fill="#fff" stroke="#000" stroke-width="1.35"/>
<circle cx="103.9" cy="677.5" r="2.85" fill="#fff" stroke="#000" stroke-width="1.35"/>
<circle cx="129.4" cy="674.3" r="2.85" fill="#fff" stroke="#000" stroke-width="1.35"/>
<circle cx="112.3" cy="680.7" r="2.85" fill="#fff" stroke="#000" stroke-width="1.35"/>
<circle cx="103.9" cy="684.2" r="2.85" fill="#fff" stroke="#000" stroke-width="1.35"/>
<circle cx="129.4" cy="683.9" r="2.85" fill="#fff" stroke="#000" stroke-width="1.35"/>
<circle cx="120.8" cy="686.2" r="2.85" fill="#fff" stroke="#000" stroke-width="1.35"/>
<circle cx="112.3" cy="691.5" r="2.85" fill="#fff" stroke="#000" stroke-width="1.35"/>
<circle cx="120.8" cy="697.1" r="2.85" fill="#fff" stroke="#000" stroke-width="1.35"/>
<circle cx="112.3" cy="698.7" r="2.85" fill="#fff" stroke="#000" stroke-width="1.35"/>
<path d="M76.8,592.4 V583.4 H116.3 V624.8" fill="none" stroke="#000" stroke-width="1.5"/>
<text x="96.40" y="576.80" font-size="13" font-weight="normal" font-style="normal" text-anchor="middle" fill="#000" >0.0666</text>
<text x="0.00" y="0.00" font-size="12.9" font-weight="bold" font-style="normal" text-anchor="middle" fill="#000" transform="translate(9.7,653.0) rotate(-90)">Time spent in open arms (s)</text>
<text x="0" y="0" font-size="12" text-anchor="end" transform="translate(81.10,747.30) rotate(-45)"><tspan font-weight="bold" font-style="normal">Control</tspan></text>
<text x="0" y="0" font-size="12" text-anchor="end" transform="translate(121.40,747.80) rotate(-45)"><tspan font-weight="normal" font-style="italic">Gtf2i</tspan><tspan font-weight="bold" font-style="normal">-KO</tspan></text>
<line x1="285.60" y1="579.90" x2="285.60" y2="731.70" stroke="#000" stroke-width="1.8"/>
<line x1="279.00" y1="730.80" x2="285.60" y2="730.80" stroke="#000" stroke-width="1.8"/>
<text x="277.60" y="735.10" font-size="12" font-weight="bold" font-style="normal" text-anchor="end" fill="#000" >0</text>
<line x1="279.00" y1="700.62" x2="285.60" y2="700.62" stroke="#000" stroke-width="1.8"/>
<text x="277.60" y="704.92" font-size="12" font-weight="bold" font-style="normal" text-anchor="end" fill="#000" >100</text>
<line x1="279.00" y1="670.44" x2="285.60" y2="670.44" stroke="#000" stroke-width="1.8"/>
<text x="277.60" y="674.74" font-size="12" font-weight="bold" font-style="normal" text-anchor="end" fill="#000" >200</text>
<line x1="279.00" y1="640.26" x2="285.60" y2="640.26" stroke="#000" stroke-width="1.8"/>
<text x="277.60" y="644.56" font-size="12" font-weight="bold" font-style="normal" text-anchor="end" fill="#000" >300</text>
<line x1="279.00" y1="610.08" x2="285.60" y2="610.08" stroke="#000" stroke-width="1.8"/>
<text x="277.60" y="614.38" font-size="12" font-weight="bold" font-style="normal" text-anchor="end" fill="#000" >400</text>
<line x1="279.00" y1="579.90" x2="285.60" y2="579.90" stroke="#000" stroke-width="1.8"/>
<text x="277.60" y="584.20" font-size="12" font-weight="bold" font-style="normal" text-anchor="end" fill="#000" >500</text>
<line x1="285.60" y1="730.80" x2="437.20" y2="730.80" stroke="#000" stroke-width="1.8"/>
<rect x="295.90" y="640.00" width="19.70" height="90.80" fill="#000" stroke="#000" stroke-width="1.4"/>
<rect x="326.10" y="668.30" width="19.60" height="62.50" fill="#000" stroke="#000" stroke-width="1.4"/>
<rect x="376.50" y="629.50" width="19.50" height="101.30" fill="#f00" stroke="#000" stroke-width="1.4"/>
<rect x="407.00" y="670.50" width="19.10" height="60.30" fill="#f00" stroke="#000" stroke-width="1.4"/>
<line x1="305.80" y1="730.80" x2="305.80" y2="737.20" stroke="#000" stroke-width="1.8"/>
<line x1="335.90" y1="730.80" x2="335.90" y2="737.20" stroke="#000" stroke-width="1.8"/>
<line x1="386.20" y1="730.80" x2="386.20" y2="737.20" stroke="#000" stroke-width="1.8"/>
<line x1="416.40" y1="730.80" x2="416.40" y2="737.20" stroke="#000" stroke-width="1.8"/>
<line x1="305.80" y1="634.00" x2="305.80" y2="646.00" stroke="#000" stroke-width="1.4"/>
<line x1="302.20" y1="634.00" x2="309.40" y2="634.00" stroke="#000" stroke-width="1.4"/>
<line x1="302.20" y1="646.00" x2="309.40" y2="646.00" stroke="#000" stroke-width="1.4"/>
<line x1="386.20" y1="624.10" x2="386.20" y2="635.00" stroke="#000" stroke-width="1.4"/>
<line x1="382.60" y1="624.10" x2="389.80" y2="624.10" stroke="#000" stroke-width="1.4"/>
<line x1="382.60" y1="635.00" x2="389.80" y2="635.00" stroke="#000" stroke-width="1.4"/>
<circle cx="305.3" cy="591.9" r="2.85" fill="#fff" stroke="#000" stroke-width="1.35"/>
<circle cx="312.7" cy="620.3" r="2.85" fill="#fff" stroke="#000" stroke-width="1.35"/>
<circle cx="307.6" cy="624.8" r="2.85" fill="#fff" stroke="#000" stroke-width="1.35"/>
<circle cx="298.4" cy="625.9" r="2.85" fill="#fff" stroke="#000" stroke-width="1.35"/>
<circle cx="312.7" cy="627.9" r="2.85" fill="#fff" stroke="#000" stroke-width="1.35"/>
<circle cx="303.3" cy="630.9" r="2.85" fill="#fff" stroke="#000" stroke-width="1.35"/>
<circle cx="307.9" cy="642.5" r="2.85" fill="#fff" stroke="#000" stroke-width="1.35"/>
<circle cx="298.0" cy="645.2" r="2.85" fill="#fff" stroke="#000" stroke-width="1.35"/>
<circle cx="303.3" cy="643.7" r="2.85" fill="#fff" stroke="#000" stroke-width="1.35"/>
<circle cx="303.3" cy="649.9" r="2.85" fill="#fff" stroke="#000" stroke-width="1.35"/>
<circle cx="307.9" cy="652.9" r="2.85" fill="#fff" stroke="#000" stroke-width="1.35"/>
<circle cx="303.3" cy="657.9" r="2.85" fill="#fff" stroke="#000" stroke-width="1.35"/>
<circle cx="307.9" cy="663.4" r="2.85" fill="#fff" stroke="#000" stroke-width="1.35"/>
<circle cx="305.4" cy="676.3" r="2.85" fill="#fff" stroke="#000" stroke-width="1.35"/>
<circle cx="339.3" cy="647.6" r="2.85" fill="#fff" stroke="#000" stroke-width="1.35"/>
<circle cx="335.6" cy="650.5" r="2.85" fill="#fff" stroke="#000" stroke-width="1.35"/>
<circle cx="332.5" cy="660.1" r="2.85" fill="#fff" stroke="#000" stroke-width="1.35"/>
<circle cx="343.0" cy="663.4" r="2.85" fill="#fff" stroke="#000" stroke-width="1.35"/>
<circle cx="336.2" cy="665.9" r="2.85" fill="#fff" stroke="#000" stroke-width="1.35"/>
<circle cx="328.2" cy="669.6" r="2.85" fill="#fff" stroke="#000" stroke-width="1.35"/>
<circle cx="332.5" cy="669.2" r="2.85" fill="#fff" stroke="#000" stroke-width="1.35"/>
<circle cx="339.3" cy="674.2" r="2.85" fill="#fff" stroke="#000" stroke-width="1.35"/>
<circle cx="332.5" cy="675.7" r="2.85" fill="#fff" stroke="#000" stroke-width="1.35"/>
<circle cx="339.3" cy="680.7" r="2.85" fill="#fff" stroke="#000" stroke-width="1.35"/>
<circle cx="332.5" cy="684.1" r="2.85" fill="#fff" stroke="#000" stroke-width="1.35"/>
<circle cx="386.1" cy="587.2" r="2.85" fill="#fff" stroke="#000" stroke-width="1.35"/>
<circle cx="382.8" cy="601.3" r="2.85" fill="#fff" stroke="#000" stroke-width="1.35"/>
<circle cx="386.9" cy="602.7" r="2.85" fill="#fff" stroke="#000" stroke-width="1.35"/>
<circle cx="390.0" cy="606.4" r="2.85" fill="#fff" stroke="#000" stroke-width="1.35"/>
<circle cx="382.8" cy="611.3" r="2.85" fill="#fff" stroke="#000" stroke-width="1.35"/>
<circle cx="386.1" cy="616.4" r="2.85" fill="#fff" stroke="#000" stroke-width="1.35"/>
<circle cx="393.3" cy="623.5" r="2.85" fill="#fff" stroke="#000" stroke-width="1.35"/>
<circle cx="379.4" cy="632.1" r="2.85" fill="#fff" stroke="#000" stroke-width="1.35"/>
<circle cx="382.8" cy="630.5" r="2.85" fill="#fff" stroke="#000" stroke-width="1.35"/>
<circle cx="386.1" cy="630.5" r="2.85" fill="#fff" stroke="#000" stroke-width="1.35"/>
<circle cx="390.0" cy="627.7" r="2.85" fill="#fff" stroke="#000" stroke-width="1.35"/>
<circle cx="393.3" cy="631.2" r="2.85" fill="#fff" stroke="#000" stroke-width="1.35"/>
<circle cx="393.3" cy="637.7" r="2.85" fill="#fff" stroke="#000" stroke-width="1.35"/>
<circle cx="382.4" cy="643.4" r="2.85" fill="#fff" stroke="#000" stroke-width="1.35"/>
<circle cx="386.1" cy="640.4" r="2.85" fill="#fff" stroke="#000" stroke-width="1.35"/>
<circle cx="390.0" cy="642.7" r="2.85" fill="#fff" stroke="#000" stroke-width="1.35"/>
<circle cx="386.1" cy="649.0" r="2.85" fill="#fff" stroke="#000" stroke-width="1.35"/>
<circle cx="386.1" cy="656.0" r="2.85" fill="#fff" stroke="#000" stroke-width="1.35"/>
<circle cx="384.4" cy="663.2" r="2.85" fill="#fff" stroke="#000" stroke-width="1.35"/>
<circle cx="388.3" cy="662.6" r="2.85" fill="#fff" stroke="#000" stroke-width="1.35"/>
<circle cx="416.5" cy="653.0" r="2.85" fill="#fff" stroke="#000" stroke-width="1.35"/>
<circle cx="420.5" cy="654.1" r="2.85" fill="#fff" stroke="#000" stroke-width="1.35"/>
<circle cx="409.4" cy="658.1" r="2.85" fill="#fff" stroke="#000" stroke-width="1.35"/>
<circle cx="423.5" cy="659.2" r="2.85" fill="#fff" stroke="#000" stroke-width="1.35"/>
<circle cx="412.8" cy="661.1" r="2.85" fill="#fff" stroke="#000" stroke-width="1.35"/>
<circle cx="416.5" cy="664.8" r="2.85" fill="#fff" stroke="#000" stroke-width="1.35"/>
<circle cx="420.5" cy="664.1" r="2.85" fill="#fff" stroke="#000" stroke-width="1.35"/>
<circle cx="409.1" cy="670.3" r="2.85" fill="#fff" stroke="#000" stroke-width="1.35"/>
<circle cx="412.8" cy="673.7" r="2.85" fill="#fff" stroke="#000" stroke-width="1.35"/>
<circle cx="419.8" cy="672.6" r="2.85" fill="#fff" stroke="#000" stroke-width="1.35"/>
<circle cx="423.5" cy="674.8" r="2.85" fill="#fff" stroke="#000" stroke-width="1.35"/>
<circle cx="409.1" cy="677.7" r="2.85" fill="#fff" stroke="#000" stroke-width="1.35"/>
<circle cx="416.5" cy="680.0" r="2.85" fill="#fff" stroke="#000" stroke-width="1.35"/>
<circle cx="412.8" cy="682.8" r="2.85" fill="#fff" stroke="#000" stroke-width="1.35"/>
<circle cx="423.5" cy="682.2" r="2.85" fill="#fff" stroke="#000" stroke-width="1.35"/>
<circle cx="409.1" cy="688.9" r="2.85" fill="#fff" stroke="#000" stroke-width="1.35"/>
<circle cx="416.5" cy="687.4" r="2.85" fill="#fff" stroke="#000" stroke-width="1.35"/>
<circle cx="420.5" cy="686.3" r="2.85" fill="#fff" stroke="#000" stroke-width="1.35"/>
<circle cx="423.5" cy="691.1" r="2.85" fill="#fff" stroke="#000" stroke-width="1.35"/>
<path d="M305.6,584.5 V576.4 H335.9 V638.3" fill="none" stroke="#000" stroke-width="1.5"/>
<path d="M386.0,581 V576.4 H416.4 V642.7" fill="none" stroke="#000" stroke-width="1.5"/>
<text x="320.40" y="576.70" font-size="21.5" font-weight="bold" font-style="normal" text-anchor="middle" fill="#000" >***</text>
<text x="401.00" y="576.70" font-size="21.5" font-weight="bold" font-style="normal" text-anchor="middle" fill="#000" >****</text>
<rect x="447.6" y="575.7" width="12.4" height="12.4" fill="#000" stroke="#000" stroke-width="1.3"/>
<rect x="448.1" y="596.2" width="11.6" height="11.6" fill="#f00" stroke="#000" stroke-width="2.2"/>
<text x="462.60" y="586.00" font-size="12.5" font-weight="normal" font-style="normal" text-anchor="start" fill="#000" >Control</text>
<text x="462.8" y="606.0" font-size="12.5"><tspan font-style="italic">Gtf2i</tspan>-KO</text>
<text x="0.00" y="0.00" font-size="12.8" font-weight="bold" font-style="normal" text-anchor="middle" fill="#000" transform="translate(250.4,655.4) rotate(-90)">Duration (s)</text>
<text x="0" y="0" font-size="11.5" text-anchor="end" transform="translate(310.80,746.60) rotate(-45)"><tspan font-weight="bold" font-style="normal">Stranger</tspan></text>
<text x="0" y="0" font-size="11.5" text-anchor="end" transform="translate(339.90,746.60) rotate(-45)"><tspan font-weight="bold" font-style="normal">Inanimate object</tspan></text>
<text x="0" y="0" font-size="11.5" text-anchor="end" transform="translate(391.10,746.90) rotate(-45)"><tspan font-weight="bold" font-style="normal">Stranger</tspan></text>
<text x="0" y="0" font-size="11.5" text-anchor="end" transform="translate(420.30,746.90) rotate(-45)"><tspan font-weight="bold" font-style="normal">Inanimate object</tspan></text>
<line x1="577.55" y1="583.96" x2="577.55" y2="731.65" stroke="#000" stroke-width="1.8"/>
<line x1="571.00" y1="730.75" x2="577.55" y2="730.75" stroke="#000" stroke-width="1.8"/>
<text x="569.40" y="735.05" font-size="12" font-weight="bold" font-style="normal" text-anchor="end" fill="#000" >0</text>
<line x1="571.00" y1="681.82" x2="577.55" y2="681.82" stroke="#000" stroke-width="1.8"/>
<text x="569.40" y="686.12" font-size="12" font-weight="bold" font-style="normal" text-anchor="end" fill="#000" >1</text>
<line x1="571.00" y1="632.89" x2="577.55" y2="632.89" stroke="#000" stroke-width="1.8"/>
<text x="569.40" y="637.19" font-size="12" font-weight="bold" font-style="normal" text-anchor="end" fill="#000" >2</text>
<line x1="571.00" y1="583.96" x2="577.55" y2="583.96" stroke="#000" stroke-width="1.8"/>
<text x="569.40" y="588.26" font-size="12" font-weight="bold" font-style="normal" text-anchor="end" fill="#000" >3</text>
<line x1="577.55" y1="730.75" x2="676.00" y2="730.75" stroke="#000" stroke-width="1.8"/>
<rect x="592.80" y="658.10" width="29.10" height="72.65" fill="#000" stroke="#000" stroke-width="1.4"/>
<rect x="630.50" y="642.50" width="29.10" height="88.25" fill="#f00" stroke="#000" stroke-width="1.4"/>
<line x1="607.20" y1="730.75" x2="607.20" y2="737.20" stroke="#000" stroke-width="1.8"/>
<line x1="644.90" y1="730.75" x2="644.90" y2="737.20" stroke="#000" stroke-width="1.8"/>
<line x1="607.20" y1="652.10" x2="607.20" y2="664.00" stroke="#000" stroke-width="1.4"/>
<line x1="599.70" y1="652.10" x2="614.70" y2="652.10" stroke="#000" stroke-width="1.4"/>
<line x1="599.70" y1="664.00" x2="614.70" y2="664.00" stroke="#000" stroke-width="1.4"/>
<line x1="644.90" y1="636.50" x2="644.90" y2="646.50" stroke="#000" stroke-width="1.4"/>
<line x1="637.40" y1="636.50" x2="652.40" y2="636.50" stroke="#000" stroke-width="1.4"/>
<line x1="637.40" y1="646.50" x2="652.40" y2="646.50" stroke="#000" stroke-width="1.4"/>
<circle cx="603.7" cy="629.4" r="2.85" fill="#fff" stroke="#000" stroke-width="1.35"/>
<circle cx="611.4" cy="626.6" r="2.85" fill="#fff" stroke="#000" stroke-width="1.35"/>
<circle cx="603.7" cy="642.5" r="2.85" fill="#fff" stroke="#000" stroke-width="1.35"/>
<circle cx="619.4" cy="641.7" r="2.85" fill="#fff" stroke="#000" stroke-width="1.35"/>
<circle cx="611.4" cy="645.4" r="2.85" fill="#fff" stroke="#000" stroke-width="1.35"/>
<circle cx="603.7" cy="650.5" r="2.85" fill="#fff" stroke="#000" stroke-width="1.35"/>
<circle cx="603.7" cy="657.6" r="2.85" fill="#fff" stroke="#000" stroke-width="1.35"/>
<circle cx="611.4" cy="659.8" r="2.85" fill="#fff" stroke="#000" stroke-width="1.35"/>
<circle cx="606.6" cy="666.5" r="2.85" fill="#fff" stroke="#000" stroke-width="1.35"/>
<circle cx="603.7" cy="673.8" r="2.85" fill="#fff" stroke="#000" stroke-width="1.35"/>
<circle cx="595.0" cy="676.9" r="2.85" fill="#fff" stroke="#000" stroke-width="1.35"/>
<circle cx="619.4" cy="676.5" r="2.85" fill="#fff" stroke="#000" stroke-width="1.35"/>
<circle cx="611.4" cy="679.1" r="2.85" fill="#fff" stroke="#000" stroke-width="1.35"/>
<circle cx="603.7" cy="683.1" r="2.85" fill="#fff" stroke="#000" stroke-width="1.35"/>
<circle cx="645.4" cy="599.5" r="2.85" fill="#fff" stroke="#000" stroke-width="1.35"/>
<circle cx="645.4" cy="607.3" r="2.85" fill="#fff" stroke="#000" stroke-width="1.35"/>
<circle cx="645.4" cy="613.9" r="2.85" fill="#fff" stroke="#000" stroke-width="1.35"/>
<circle cx="639.2" cy="621.0" r="2.85" fill="#fff" stroke="#000" stroke-width="1.35"/>
<circle cx="650.9" cy="621.0" r="2.85" fill="#fff" stroke="#000" stroke-width="1.35"/>
<circle cx="642.1" cy="629.9" r="2.85" fill="#fff" stroke="#000" stroke-width="1.35"/>
<circle cx="648.1" cy="629.9" r="2.85" fill="#fff" stroke="#000" stroke-width="1.35"/>
<circle cx="650.9" cy="637.0" r="2.85" fill="#fff" stroke="#000" stroke-width="1.35"/>
<circle cx="645.4" cy="638.8" r="2.85" fill="#fff" stroke="#000" stroke-width="1.35"/>
<circle cx="639.2" cy="648.8" r="2.85" fill="#fff" stroke="#000" stroke-width="1.35"/>
<circle cx="645.4" cy="651.4" r="2.85" fill="#fff" stroke="#000" stroke-width="1.35"/>
<circle cx="633.2" cy="654.7" r="2.85" fill="#fff" stroke="#000" stroke-width="1.35"/>
<circle cx="639.2" cy="654.7" r="2.85" fill="#fff" stroke="#000" stroke-width="1.35"/>
<circle cx="650.9" cy="656.1" r="2.85" fill="#fff" stroke="#000" stroke-width="1.35"/>
<circle cx="657.6" cy="654.7" r="2.85" fill="#fff" stroke="#000" stroke-width="1.35"/>
<circle cx="639.2" cy="662.1" r="2.85" fill="#fff" stroke="#000" stroke-width="1.35"/>
<circle cx="645.4" cy="659.8" r="2.85" fill="#fff" stroke="#000" stroke-width="1.35"/>
<circle cx="650.9" cy="662.5" r="2.85" fill="#fff" stroke="#000" stroke-width="1.35"/>
<circle cx="645.4" cy="670.3" r="2.85" fill="#fff" stroke="#000" stroke-width="1.35"/>
<circle cx="645.4" cy="684.3" r="2.85" fill="#fff" stroke="#000" stroke-width="1.35"/>
<path d="M607.2,616.6 V582.2 H644.9 V591.1" fill="none" stroke="#000" stroke-width="1.5"/>
<text x="625.50" y="582.20" font-size="21.5" font-weight="bold" font-style="normal" text-anchor="middle" fill="#000" >*</text>
<text x="0.00" y="0.00" font-size="12.3" font-weight="bold" font-style="normal" text-anchor="middle" fill="#000" transform="translate(556.7,656.4) rotate(-90)" xml:space="preserve">Social index  (A.U.)</text>
<text x="0" y="0" font-size="11.3" text-anchor="end" transform="translate(611.60,747.20) rotate(-45)"><tspan font-weight="bold" font-style="normal">Control</tspan></text>
<text x="0" y="0" font-size="11.3" text-anchor="end" transform="translate(650.00,747.20) rotate(-45)"><tspan font-weight="normal" font-style="italic">Gtf2i</tspan><tspan font-weight="bold" font-style="normal">-KO</tspan></text>
</svg>
</body></html>
